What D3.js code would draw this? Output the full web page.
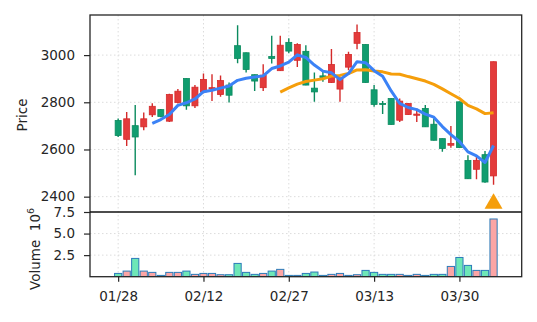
<!DOCTYPE html>
<html>
<head>
<meta charset="utf-8">
<script src="https://cdn.jsdelivr.net/npm/d3@7"></script>
<style>
  body { margin: 0; background: #fff; }
  text { font-family: "DejaVu Sans", sans-serif; }
</style>
</head>
<body>
<div id="canvas"></div>
<script>
// trading days
const dates = ["01/28","01/29","01/30","01/31","02/01","02/04","02/05","02/06","02/07","02/11",
  "02/12","02/13","02/14","02/15","02/18","02/19","02/20","02/21","02/22","02/26",
  "02/27","02/28","03/01","03/04","03/05","03/06","03/07","03/08","03/11","03/12",
  "03/13","03/14","03/15","03/18","03/19","03/20","03/21","03/22","03/25","03/27",
  "03/30","03/31","04/01","04/02","04/03"];
const tickIdx = [0, 10, 20, 30, 40];

const open  = [2723,2643,2701,2696,2747,2769,2720,2799,2901,2785,2844,2858,2833,2873,3040,3010,2917,2862,2994,2934,
               3054,2978,3016,2860,2912,2884,2856,2949,3050,3045,2853,2795,2816,2724,2748,2745,2774,2707,2646,2618,
               2802,2553,2516,2578,2488];
const high  = [2731,2759,2788,2757,2796,2772,2836,2856,2902,2873,2922,2919,2914,2884,3127,3011,2918,2961,3082,3082,
               3071,3050,3042,2926,2929,3026,2908,3014,3130,3046,2873,2805,2817,2816,2796,2774,2788,2731,2647,2699,
               2803,2576,2568,2594,2973];
const low   = [2653,2615,2491,2682,2738,2737,2717,2795,2768,2776,2838,2806,2823,2799,2965,2926,2848,2848,2964,2933,
               3008,2950,2872,2802,2887,2882,2802,2936,3025,2883,2781,2750,2705,2717,2747,2717,2695,2638,2590,2607,
               2607,2475,2474,2459,2451];
const close = [2659,2730,2653,2730,2783,2740,2833,2847,2785,2864,2897,2862,2892,2830,2986,2939,2890,2915,2986,3042,
               3017,3045,2873,2844,2905,2960,2898,3003,3096,2884,2791,2791,2706,2805,2795,2750,2696,2639,2604,2625,
               2608,2476,2554,2462,2972];
// volume in 10^6
const volume = [0.38,0.65,2.12,0.65,0.5,0.15,0.5,0.5,0.65,0.27,0.38,0.38,0.23,0.23,1.54,0.5,0.27,0.38,0.65,0.85,
                0.15,0.15,0.38,0.54,0.15,0.27,0.38,0.15,0.23,0.73,0.5,0.27,0.27,0.27,0.15,0.27,0.15,0.27,0.27,1.19,
                2.23,1.31,0.73,0.73,6.69];
const ma5 = [null,null,null,null,2711,2727,2748,2787,2798,2814,2845,2851,2860,2869,2893,2902,2907,2912,2943,2954,
             2970,3001,2990,2958,2932,2925,2896,2922,2972,2968,2934,2910,2848,2795,2778,2769,2750,2737,2697,2663,
             2634,2590,2573,2545,2617];
const ma20 = [null,null,null,null,null,null,null,null,null,null,null,null,null,null,null,null,null,null,null,2843,
              2861,2877,2888,2894,2900,2911,2914,2922,2937,2938,2933,2929,2920,2919,2909,2900,2890,2876,2857,2836,
              2816,2787,2772,2752,2756];
const signalIdx = [44];
const signalPrice = [2375];

const width = 537, height = 322;
const left = 90, right = 521.7;
const pTop = 15, pBot = 212, vTop = 212, vBot = 276.7;

const svg = d3.select("#canvas").append("svg")
  .attr("width", width).attr("height", height);

const x = d3.scaleLinear().domain([-3.3, 47.3]).range([left, right]);
const y = d3.scaleLinear().domain([2335, 3170]).range([pBot, pTop]);
const yv = d3.scaleLinear().domain([0, 7.5]).range([vBot, vTop]);

const idx = d3.range(dates.length);
const up = i => close[i] >= open[i];
const RED = "#e33b3b", REDE = "#d42a2a", GRN = "#109d6f", GRNE = "#0a8a5e";

const defs = svg.append("defs");
defs.append("clipPath").attr("id", "cp").append("rect")
  .attr("x", left).attr("y", pTop).attr("width", right - left).attr("height", pBot - pTop);
defs.append("clipPath").attr("id", "cv").append("rect")
  .attr("x", left).attr("y", vTop).attr("width", right - left).attr("height", vBot - vTop);

// grids
const grid = svg.append("g").attr("stroke", "#dcdcdc").attr("stroke-width", 1).attr("stroke-dasharray", "1.5,2.5");
grid.selectAll(".gp").data([2400, 2600, 2800, 3000]).join("line")
  .attr("x1", left).attr("x2", right).attr("y1", d => y(d)).attr("y2", d => y(d));
grid.selectAll(".gv").data([2.5, 5.0]).join("line")
  .attr("x1", left).attr("x2", right).attr("y1", d => yv(d)).attr("y2", d => yv(d));
grid.selectAll(".gx").data(tickIdx).join("line")
  .attr("x1", d => x(d)).attr("x2", d => x(d)).attr("y1", pTop).attr("y2", vBot);

// candles
const pg = svg.append("g").attr("clip-path", "url(#cp)");
pg.selectAll(".wick").data(idx).join("line")
  .attr("x1", i => x(i)).attr("x2", i => x(i))
  .attr("y1", i => y(high[i])).attr("y2", i => y(low[i]))
  .attr("stroke", i => up(i) ? REDE : GRNE).attr("stroke-width", 1.4);
pg.selectAll(".body").data(idx).join("rect")
  .attr("x", i => x(i) - 3).attr("width", 6)
  .attr("y", i => y(Math.max(open[i], close[i])))
  .attr("height", i => Math.max(1, y(Math.min(open[i], close[i])) - y(Math.max(open[i], close[i]))))
  .attr("fill", i => up(i) ? RED : GRN)
  .attr("stroke", i => up(i) ? REDE : GRNE).attr("stroke-width", 0.8);

// moving averages
const line = arr => d3.line().defined(i => arr[i] != null).x(i => x(i)).y(i => y(arr[i]))(idx);
pg.append("path").attr("d", line(ma20)).attr("fill", "none")
  .attr("stroke", "#f59e0b").attr("stroke-width", 3).attr("stroke-linejoin", "round");
pg.append("path").attr("d", line(ma5)).attr("fill", "none")
  .attr("stroke", "#3b82f6").attr("stroke-width", 3).attr("stroke-linejoin", "round");

// signal marker
pg.selectAll(".sig").data(signalIdx).join("path")
  .attr("d", d3.symbol().type(d3.symbolTriangle).size(140))
  .attr("transform", (d, k) => `translate(${x(d)},${y(signalPrice[k]) + 1})`)
  .attr("fill", "#f59e0b");

// volume
const vg = svg.append("g").attr("clip-path", "url(#cv)");
vg.selectAll(".vol").data(idx).join("rect")
  .attr("x", i => x(i) - 3.6).attr("width", 7.2)
  .attr("y", i => yv(volume[i])).attr("height", i => vBot - yv(volume[i]))
  .attr("fill", i => up(i) ? "#fca5a5" : "#6ee7b7")
  .attr("stroke", "#2b7bb9").attr("stroke-width", 1);

// axes
const styleAxis = g => {
  g.select(".domain").remove();
  g.selectAll(".tick line").attr("stroke", "#262626").attr("stroke-width", 1.2);
  g.selectAll(".tick text").attr("fill", "#262626").style("font-size", "13.5px")
    .style("font-family", "DejaVu Sans");
};
svg.append("g").attr("transform", `translate(${left},0)`)
  .call(d3.axisLeft(y).tickValues([2400, 2600, 2800, 3000]).tickFormat(d3.format("d")).tickSize(6).tickPadding(9))
  .call(styleAxis);
svg.append("g").attr("transform", `translate(${left},0)`)
  .call(d3.axisLeft(yv).tickValues([2.5, 5.0, 7.5]).tickFormat(d3.format(".1f")).tickSize(6).tickPadding(9))
  .call(styleAxis);
svg.append("g").attr("transform", `translate(0,${vBot})`)
  .call(d3.axisBottom(x).tickValues(tickIdx).tickFormat(i => dates[i]).tickSize(5).tickPadding(10))
  .call(styleAxis);

// spines
svg.append("rect").attr("x", left).attr("y", pTop).attr("width", right - left).attr("height", vBot - pTop)
  .attr("fill", "none").attr("stroke", "#262626").attr("stroke-width", 1.3);
svg.append("line").attr("x1", left).attr("x2", right).attr("y1", pBot).attr("y2", pBot)
  .attr("stroke", "#111").attr("stroke-width", 1.3);

// axis labels
svg.append("text").attr("transform", "translate(27,115) rotate(-90)")
  .attr("text-anchor", "middle").style("font-size", "13.5px").attr("fill", "#262626").text("Price");
const vl = svg.append("text").attr("transform", "translate(40,290) rotate(-90)")
  .attr("text-anchor", "start").style("font-size", "13.5px").attr("fill", "#262626");
vl.append("tspan").text("Volume\u00a0\u00a010");
vl.append("tspan").attr("dy", -6).style("font-size", "9.5px").text("6");
</script>
</body>
</html>
